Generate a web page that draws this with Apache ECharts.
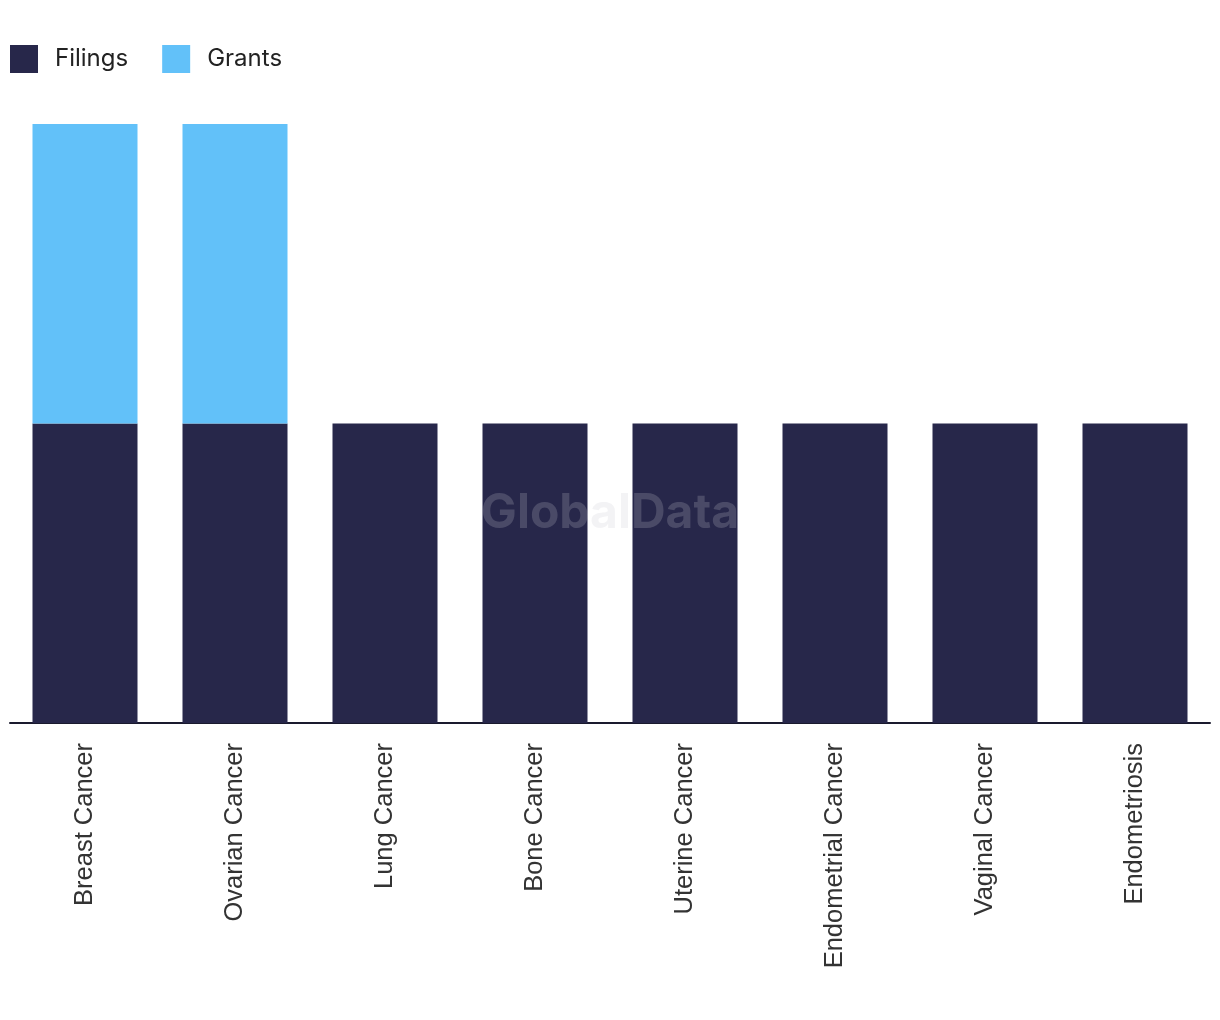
<!DOCTYPE html>
<html><head><meta charset="utf-8">
<script src="https://cdn.jsdelivr.net/npm/echarts@6/dist/echarts.min.js"></script>
<style>html,body{margin:0;padding:0;background:#fff}#c{width:1220px;height:1020px}</style>
</head><body><div id="c"></div>
<script>
const categories = ["Breast Cancer","Ovarian Cancer","Lung Cancer","Bone Cancer","Uterine Cancer","Endometrial Cancer","Vaginal Cancer","Endometriosis"];
const filings = [1,1,1,1,1,1,1,1];
const grants = [1,1,0,0,0,0,0,0];
const chart = echarts.init(document.getElementById('c'));
chart.setOption({
  animation:false,
  legend:{left:10,top:45,padding:0,itemWidth:28,itemHeight:28,itemGap:34,icon:'rect',
    textStyle:{fontFamily:'Inter',fontSize:24,color:'#222',padding:[0,0,0,12]},
    data:['Filings','Grants']},
  grid:{left:10,right:10,top:124,bottom:297,containLabel:false},
  xAxis:{type:'category',data:categories,
    axisLine:{lineStyle:{color:'#1a1a2e',width:2}},axisTick:{show:false},
    axisLabel:{rotate:90,fontFamily:'Liberation Sans',fontSize:25.5,color:'#333',margin:20,interval:0}},
  yAxis:{type:'value',min:0,max:2,show:false,splitLine:{show:false}},
  graphic:[{type:'text',left:'center',top:490,z:100,style:{text:'GlobalData',fontFamily:'Inter',fontWeight:'bold',fontSize:48,fill:'rgba(200,200,210,0.22)'}}],
  series:[
    {name:'Filings',type:'bar',stack:'a',data:filings,barWidth:'70%',itemStyle:{color:'#27274a'}},
    {name:'Grants',type:'bar',stack:'a',data:grants,barWidth:'70%',itemStyle:{color:'#62c1f9'}}
  ]
});
</script></body></html>
